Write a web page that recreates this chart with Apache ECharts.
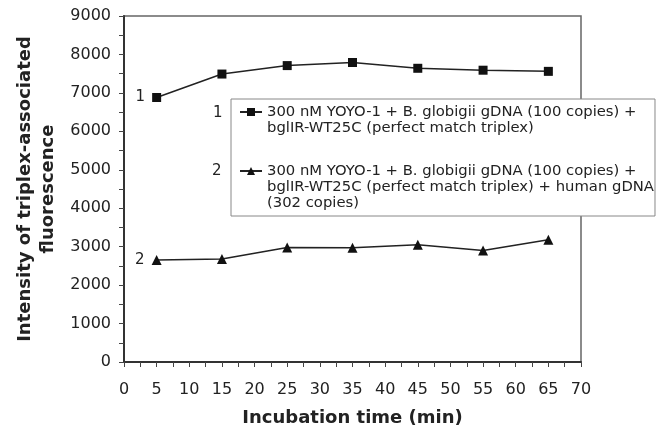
<!DOCTYPE html>
<html>
<head>
<meta charset="utf-8">
<script src="https://cdn.jsdelivr.net/npm/echarts@6/dist/echarts.min.js"></script>
<style>
  html, body { margin: 0; padding: 0; background: #fff; }
  #chart { width: 656px; height: 433px; }
</style>
</head>
<body>
<div id="chart"></div>
<script>
// incubation time (min)
const times = [5, 15, 25, 35, 45, 55, 65];
// curve 1: perfect match triplex
const perfectMatch = [6880, 7490, 7710, 7790, 7640, 7590, 7560];
// curve 2: perfect match triplex + human gDNA
const withHuman = [2650, 2680, 2980, 2970, 3050, 2900, 3180];

const name1 = '300 nM YOYO-1 + B. globigii gDNA (100 copies) +\nbglIR-WT25C (perfect match triplex)';
const name2 = '300 nM YOYO-1 + B. globigii gDNA (100 copies) +\nbglIR-WT25C (perfect match triplex) + human gDNA\n(302 copies)';

const font = 'DejaVu Sans, sans-serif';

// first point carries the curve number on its left
function withTag(values, tag) {
  return values.map((v, i) => {
    if (i === 0) {
      return {
        value: [times[i], v],
        label: { show: true, position: 'left', distance: 7, formatter: tag, color: '#222', fontSize: 15, fontFamily: font }
      };
    }
    return [times[i], v];
  });
}

const chart = echarts.init(document.getElementById('chart'));
chart.setOption({
  animation: false,
  grid: {
    left: 124, right: 75, top: 16, bottom: 71,
    show: true, borderColor: '#666', borderWidth: 1.5
  },
  legend: {
    orient: 'vertical',
    left: 231, top: 99,
    padding: [-11, 1, 5, 8],
    itemGap: -5,
    itemWidth: 22, itemHeight: 10,
    backgroundColor: '#fff',
    borderColor: '#888', borderWidth: 1,
    borderRadius: 0,
    // spacer line on top so the icon sits on the first text line
    formatter: function (name) {
      return (name === name1 ? '{g1| }' : '{g2| }') + '\n' + name;
    },
    textStyle: {
      color: '#222', fontSize: 14.8, fontFamily: font, lineHeight: 16,
      rich: {
        g1: { fontSize: 14.8, lineHeight: 16, height: 16 },
        g2: { fontSize: 14.8, lineHeight: 32, height: 32 }
      }
    },
    data: [name1, name2]
  },
  graphic: [
    { type: 'text', left: 213, top: 106, style: { text: '1', fontSize: 15, fontFamily: font, fill: '#222' } },
    { type: 'text', left: 212, top: 164, style: { text: '2', fontSize: 15, fontFamily: font, fill: '#222' } }
  ],
  xAxis: {
    type: 'value',
    min: 0, max: 70, interval: 5,
    name: 'Incubation time (min)',
    nameLocation: 'middle',
    nameGap: 47,
    nameTextStyle: { color: '#222', fontSize: 18, fontWeight: 'bold', fontFamily: font },
    axisLine: { lineStyle: { color: '#333', width: 2 } },
    axisTick: { length: 5, lineStyle: { color: '#444' } },
    minorTick: { show: true, splitNumber: 2, length: 5, lineStyle: { color: '#444' } },
    axisLabel: { color: '#222', fontSize: 16, fontFamily: font, margin: 20 },
    splitLine: { show: false }
  },
  yAxis: {
    type: 'value',
    min: 0, max: 9000, interval: 1000,
    name: 'Intensity of triplex-associated\nfluorescence',
    nameLocation: 'middle',
    nameGap: 63,
    nameTextStyle: { color: '#222', fontSize: 18, fontWeight: 'bold', fontFamily: font, lineHeight: 23 },
    axisLine: { show: true, lineStyle: { color: '#333', width: 2 } },
    axisTick: { show: true, length: 5, lineStyle: { color: '#444' } },
    minorTick: { show: true, splitNumber: 2, length: 5, lineStyle: { color: '#444' } },
    axisLabel: { color: '#222', fontSize: 16, fontFamily: font, margin: 13, formatter: v => String(v) },
    splitLine: { show: false }
  },
  series: [
    {
      name: name1,
      type: 'line',
      data: withTag(perfectMatch, '1'),
      symbol: 'rect',
      symbolSize: 9,
      lineStyle: { color: '#222', width: 1.5 },
      itemStyle: { color: '#111' }
    },
    {
      name: name2,
      type: 'line',
      data: withTag(withHuman, '2'),
      symbol: 'triangle',
      symbolSize: 10,
      lineStyle: { color: '#222', width: 1.5 },
      itemStyle: { color: '#111' }
    }
  ]
});
</script>
</body>
</html>
